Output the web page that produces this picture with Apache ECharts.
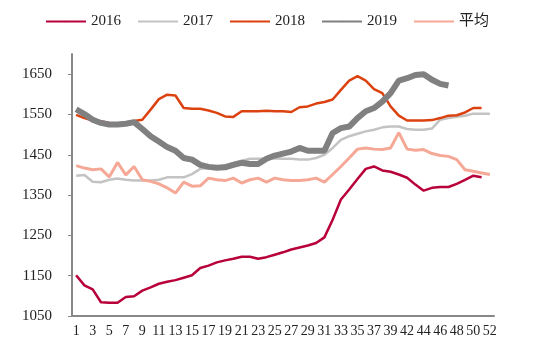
<!DOCTYPE html>
<html>
<head>
<meta charset="utf-8">
<script src="https://cdn.jsdelivr.net/npm/echarts@6/dist/echarts.min.js"></script>
<style>
html, body { margin: 0; padding: 0; background: #fff; }
#main { width: 534px; height: 351px; }
</style>
</head>
<body>
<div id="main"></div>
<script>
var weeks = ['1','2','3','4','5','6','7','8','9','10','11','12','13','14','15','16','17','18','19','20',
    '21','22','23','24','25','26','27','28','29','30','31','32','33','34','35','36','37','38','39','40',
    '42','43','44','45','46','47','48','49','50','51','52'];
var y2016 = [1151,1126,1116,1084,1083,1083,1097,1099,1113,1121,1130,1135,1139,1145,1151,1169,1175,1183,1188,1192,
    1197,1197,1192,1196,1202,1208,1215,1220,1225,1231,1245,1289,1339,1364,1390,1415,1421,1411,1408,1401,
    1393,1376,1361,1368,1370,1370,1378,1388,1398,1394];
var y2017 = [1398,1400,1383,1382,1388,1391,1388,1386,1386,1386,1388,1394,1394,1394,1402,1415,1417,1420,1424,1430,
    1435,1440,1440,1441,1441,1440,1440,1438,1438,1442,1450,1467,1487,1496,1502,1508,1512,1518,1520,1520,
    1514,1512,1512,1515,1537,1541,1544,1547,1552,1552,1552];
var y2018 = [1549,1541,1535,1533,1529,1527,1530,1534,1537,1562,1588,1599,1597,1566,1564,1564,1560,1554,1545,1544,
    1558,1558,1558,1559,1558,1558,1556,1568,1570,1577,1581,1587,1611,1634,1645,1634,1613,1603,1570,1547,
    1535,1535,1535,1536,1541,1547,1548,1555,1566,1566];
var y2019 = [1563,1551,1537,1529,1525,1525,1527,1531,1514,1496,1483,1469,1460,1442,1438,1425,1420,1418,1419,1425,
    1430,1427,1427,1440,1448,1453,1458,1467,1460,1460,1460,1504,1516,1520,1541,1558,1566,1582,1603,1634,
    1640,1648,1650,1636,1626,1622];
var yAvg = [1423,1417,1413,1415,1395,1431,1400,1421,1388,1384,1378,1368,1355,1382,1372,1373,1392,1388,1386,1392,
    1380,1388,1392,1382,1392,1388,1386,1386,1388,1392,1382,1401,1421,1442,1464,1467,1464,1463,1467,1505,
    1464,1461,1463,1453,1448,1446,1438,1413,1409,1405,1401];
var yTicks = [1050,1150,1250,1350,1450,1550,1650];

var font = '"Times New Roman", "Liberation Serif", "Noto Sans CJK SC", serif';
var chart = echarts.init(document.getElementById('main'));

function line(name, data, color, width, z) {
    return {
        name: name,
        type: 'line',
        data: data,
        showSymbol: false,
        symbol: 'none',
        z: z,
        lineStyle: { color: color, width: width },
        itemStyle: { color: color }
    };
}

chart.setOption({
    animation: false,
    legend: {
        top: 9,
        left: 'center',
        itemWidth: 40,
        itemHeight: 2,
        itemGap: 16,
        textStyle: { fontFamily: font, fontSize: 15, color: '#222' }
    },
    grid: { left: 72, right: 40, top: 54, bottom: 35 },
    xAxis: {
        type: 'category',
        data: weeks,
        boundaryGap: true,
        axisLine: { lineStyle: { color: '#888', width: 2 } },
        axisTick: { inside: true, length: 4, interval: 0, lineStyle: { color: '#888' } },
        axisLabel: { interval: 1, margin: 8, fontFamily: font, fontSize: 14, color: '#222' }
    },
    yAxis: {
        type: 'value',
        min: 1050,
        max: 1700,
        interval: 50,
        splitLine: { show: false },
        axisLine: { show: true, lineStyle: { color: '#888', width: 2 } },
        axisTick: { show: true, length: 4, customValues: yTicks, lineStyle: { color: '#888' } },
        axisLabel: {
            customValues: yTicks, margin: 20, fontFamily: font, fontSize: 15, color: '#222',
            formatter: function (v) { return String(v); }
        }
    },
    series: [
        line('2016', y2016, '#B8003A', 2.5, 5),
        line('2017', y2017, '#C3C3C3', 2.5, 1),
        line('2018', y2018, '#DC4210', 2.5, 3),
        line('2019', y2019, '#808080', 6, 4),
        line('平均', yAvg, '#F5A896', 3, 2)
    ]
});
</script>
</body>
</html>
